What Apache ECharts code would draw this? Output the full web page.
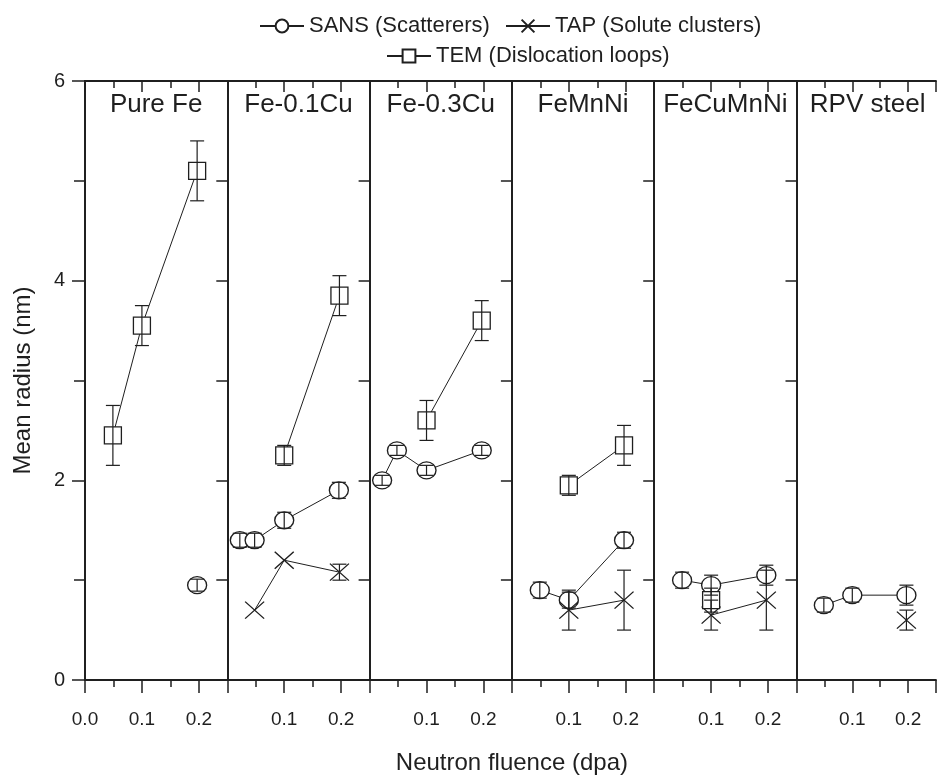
<!DOCTYPE html>
<html>
<head>
<meta charset="utf-8">
<script src="https://cdn.jsdelivr.net/npm/echarts@6/dist/echarts.min.js"></script>
<style>
html,body{margin:0;padding:0;background:#fff;}
#chart{width:939px;height:778px;}
</style>
</head>
<body>
<div id="chart"></div>
<script>
// ---- data ----
const panelNames = ['Pure Fe', 'Fe-0.1Cu', 'Fe-0.3Cu', 'FeMnNi', 'FeCuMnNi', 'RPV steel'];
const xTickLabels = ['0.0', '0.1', '0.2'];
const yTickLabels = ['0', '2', '4', '6'];

const sansFluence = [[0.197], [0.022, 0.048, 0.1, 0.196], [0.022, 0.048, 0.1, 0.197], [0.049, 0.1, 0.197], [0.049, 0.1, 0.197], [0.049, 0.1, 0.197]];
const sansRadius  = [[0.95], [1.4, 1.4, 1.6, 1.9], [2.0, 2.3, 2.1, 2.3], [0.9, 0.8, 1.4], [1.0, 0.95, 1.05], [0.75, 0.85, 0.85]];
const sansError   = [[0.06], [0.07, 0.07, 0.08, 0.08], [0.05, 0.05, 0.05, 0.05], [0.08, 0.08, 0.08], [0.08, 0.1, 0.1], [0.07, 0.07, 0.1]];

const tapFluence = [[], [0.048, 0.1, 0.197], [], [0.1, 0.197], [0.1, 0.197], [0.197]];
const tapRadius  = [[], [0.7, 1.2, 1.08], [], [0.7, 0.8], [0.65, 0.8], [0.6]];
const tapError   = [[], [0, 0, 0.08], [], [0.2, 0.3], [0.15, 0.3], [0.1]];

const temFluence = [[0.049, 0.1, 0.197], [0.1, 0.197], [0.1, 0.197], [0.1, 0.197], [0.1], []];
const temRadius  = [[2.45, 3.55, 5.1], [2.25, 3.85], [2.6, 3.6], [1.95, 2.35], [0.8], []];
const temError   = [[0.3, 0.2, 0.3], [0.1, 0.2], [0.2, 0.2], [0.1, 0.2], [0.12], []];

const seriesNames = ['SANS (Scatterers)', 'TAP (Solute clusters)', 'TEM (Dislocation loops)'];

// ---- layout & style ----
const FONT = "'Liberation Sans', Arial, sans-serif";
const INK = '#1f1f1f';
const GL = 85, GT = 81, GW = 142.3, GH = 599;
const axisLineStyle = { color: INK, width: 1.8 };

const grids = [], xAxes = [], yAxes = [], series = [], graphics = [];

const symbols = {
  sans: { symbol: 'circle', size: [19, 17], fill: '#fff' },
  tap:  { symbol: 'path://M0,0L20,20M20,0L0,20', size: [19, 17], fill: 'rgba(0,0,0,0)' },
  tem:  { symbol: 'rect', size: [17, 17], fill: '#fff' }
};

function lineSeries(name, sym, xs, ys, gi) {
  return {
    type: 'line', name: name,
    xAxisIndex: gi * 4, yAxisIndex: gi * 2,
    data: xs.map((x, k) => [x, ys[k]]),
    symbol: sym.symbol, symbolSize: sym.size, showSymbol: true,
    itemStyle: { color: sym.fill, borderColor: INK, borderWidth: 1.3 },
    lineStyle: { color: INK, width: 1 },
    emphasis: { disabled: true },
    z: 3
  };
}

function errSeries(xs, ys, es, gi) {
  return {
    type: 'custom',
    xAxisIndex: gi * 4, yAxisIndex: gi * 2,
    data: xs.map((x, k) => [x, ys[k], es[k]]),
    renderItem: function (params, api) {
      const x = api.value(0), y = api.value(1), e = api.value(2);
      if (!e) return null;
      const top = api.coord([x, y + e]);
      const bot = api.coord([x, y - e]);
      const cap = 7;
      const st = { stroke: INK, lineWidth: 1.2 };
      return {
        type: 'group',
        children: [
          { type: 'line', shape: { x1: top[0], y1: top[1], x2: bot[0], y2: bot[1] }, style: st },
          { type: 'line', shape: { x1: top[0] - cap, y1: top[1], x2: top[0] + cap, y2: top[1] }, style: st },
          { type: 'line', shape: { x1: bot[0] - cap, y1: bot[1], x2: bot[0] + cap, y2: bot[1] }, style: st }
        ]
      };
    },
    silent: true,
    z: 5
  };
}

for (let i = 0; i < panelNames.length; i++) {
  grids.push({ left: GL + i * GW, top: GT, width: GW, height: GH });
  const first = i === 0;
  // bottom major axis with labels
  xAxes.push({
    gridIndex: i, type: 'value', position: 'bottom', min: 0, max: 0.25, interval: 0.1,
    axisLine: { show: true, lineStyle: axisLineStyle },
    axisTick: { show: true, inside: false, length: 13, lineStyle: { color: INK, width: 1.5 } },
    axisLabel: {
      show: true, margin: 30, fontSize: 19, fontFamily: FONT, color: INK,
      formatter: function (v) {
        const idx = Math.round(v * 10);
        if (Math.abs(v * 10 - idx) > 1e-6) return '';
        if (idx === 0 && !first) return '';
        return xTickLabels[idx] || '';
      }
    },
    splitLine: { show: false }
  });
  // bottom minor ticks
  xAxes.push({
    gridIndex: i, type: 'value', position: 'bottom', min: 0, max: 0.25, interval: 0.05,
    axisLine: { show: false }, axisLabel: { show: false },
    axisTick: { show: true, inside: false, length: 7, lineStyle: { color: INK, width: 1.5 } },
    splitLine: { show: false }
  });
  // top major
  xAxes.push({
    gridIndex: i, type: 'value', position: 'top', min: 0, max: 0.25, interval: 0.1,
    axisLine: { show: true, lineStyle: axisLineStyle },
    axisTick: { show: true, inside: true, length: 11, lineStyle: { color: INK, width: 1.5 } },
    axisLabel: { show: false }, splitLine: { show: false }
  });
  // top minor
  xAxes.push({
    gridIndex: i, type: 'value', position: 'top', min: 0, max: 0.25, interval: 0.05,
    axisLine: { show: false }, axisLabel: { show: false },
    axisTick: { show: true, inside: true, length: 7, lineStyle: { color: INK, width: 1.5 } },
    splitLine: { show: false }
  });
  // left y axis
  yAxes.push({
    gridIndex: i, type: 'value', position: 'left', min: 0, max: 6, interval: 2,
    axisLine: { show: true, lineStyle: axisLineStyle },
    axisTick: { show: first, inside: false, length: 13, lineStyle: { color: INK, width: 1.5 } },
    axisLabel: {
      show: first, margin: 20, fontSize: 20, fontFamily: FONT, color: INK,
      formatter: function (v) { return yTickLabels[Math.round(v / 2)]; }
    },
    splitLine: { show: false },
    name: first ? 'Mean radius (nm)' : '',
    nameLocation: 'middle', nameGap: 50, nameRotate: 90,
    nameTextStyle: { fontSize: 24, fontFamily: FONT, color: INK }
  });
  // right y axis with inward ticks
  yAxes.push({
    gridIndex: i, type: 'value', position: 'right', min: 0, max: 6, interval: 1,
    axisLine: { show: true, lineStyle: axisLineStyle },
    axisTick: { show: true, inside: true, length: 11, lineStyle: { color: INK, width: 1.5 } },
    axisLabel: { show: false }, splitLine: { show: false }
  });

  if (sansFluence[i].length) {
    series.push(lineSeries(seriesNames[0], symbols.sans, sansFluence[i], sansRadius[i], i));
    series.push(errSeries(sansFluence[i], sansRadius[i], sansError[i], i));
  }
  if (tapFluence[i].length) {
    series.push(lineSeries(seriesNames[1], symbols.tap, tapFluence[i], tapRadius[i], i));
    series.push(errSeries(tapFluence[i], tapRadius[i], tapError[i], i));
  }
  if (temFluence[i].length) {
    series.push(lineSeries(seriesNames[2], symbols.tem, temFluence[i], temRadius[i], i));
    series.push(errSeries(temFluence[i], temRadius[i], temError[i], i));
  }

  graphics.push({
    type: 'text', x: GL + i * GW + GW / 2, y: 105,
    style: { text: panelNames[i], fontSize: 26, fontFamily: FONT, fill: INK, textAlign: 'center', textVerticalAlign: 'middle' }
  });
}

graphics.push({
  type: 'text', x: GL + 3 * GW, y: 763,
  style: { text: 'Neutron fluence (dpa)', fontSize: 24, fontFamily: FONT, fill: INK, textAlign: 'center', textVerticalAlign: 'middle' }
});

const legendCommon = {
  orient: 'horizontal', itemWidth: 44, itemHeight: 16, itemGap: 12,
  textStyle: { fontSize: 22, fontFamily: FONT, color: INK },
  selectedMode: false
};

const option = {
  animation: false,
  backgroundColor: '#fff',
  legend: [
    Object.assign({}, legendCommon, { data: [seriesNames[0]], left: 254, top: 10 }),
    Object.assign({}, legendCommon, { data: [seriesNames[1]], left: 500, top: 10 }),
    Object.assign({}, legendCommon, { data: [seriesNames[2]], left: 381, top: 40 })
  ],
  grid: grids,
  xAxis: xAxes,
  yAxis: yAxes,
  series: series,
  graphic: graphics
};

const chart = echarts.init(document.getElementById('chart'), null, { renderer: 'canvas' });
chart.setOption(option);
</script>
</body>
</html>
